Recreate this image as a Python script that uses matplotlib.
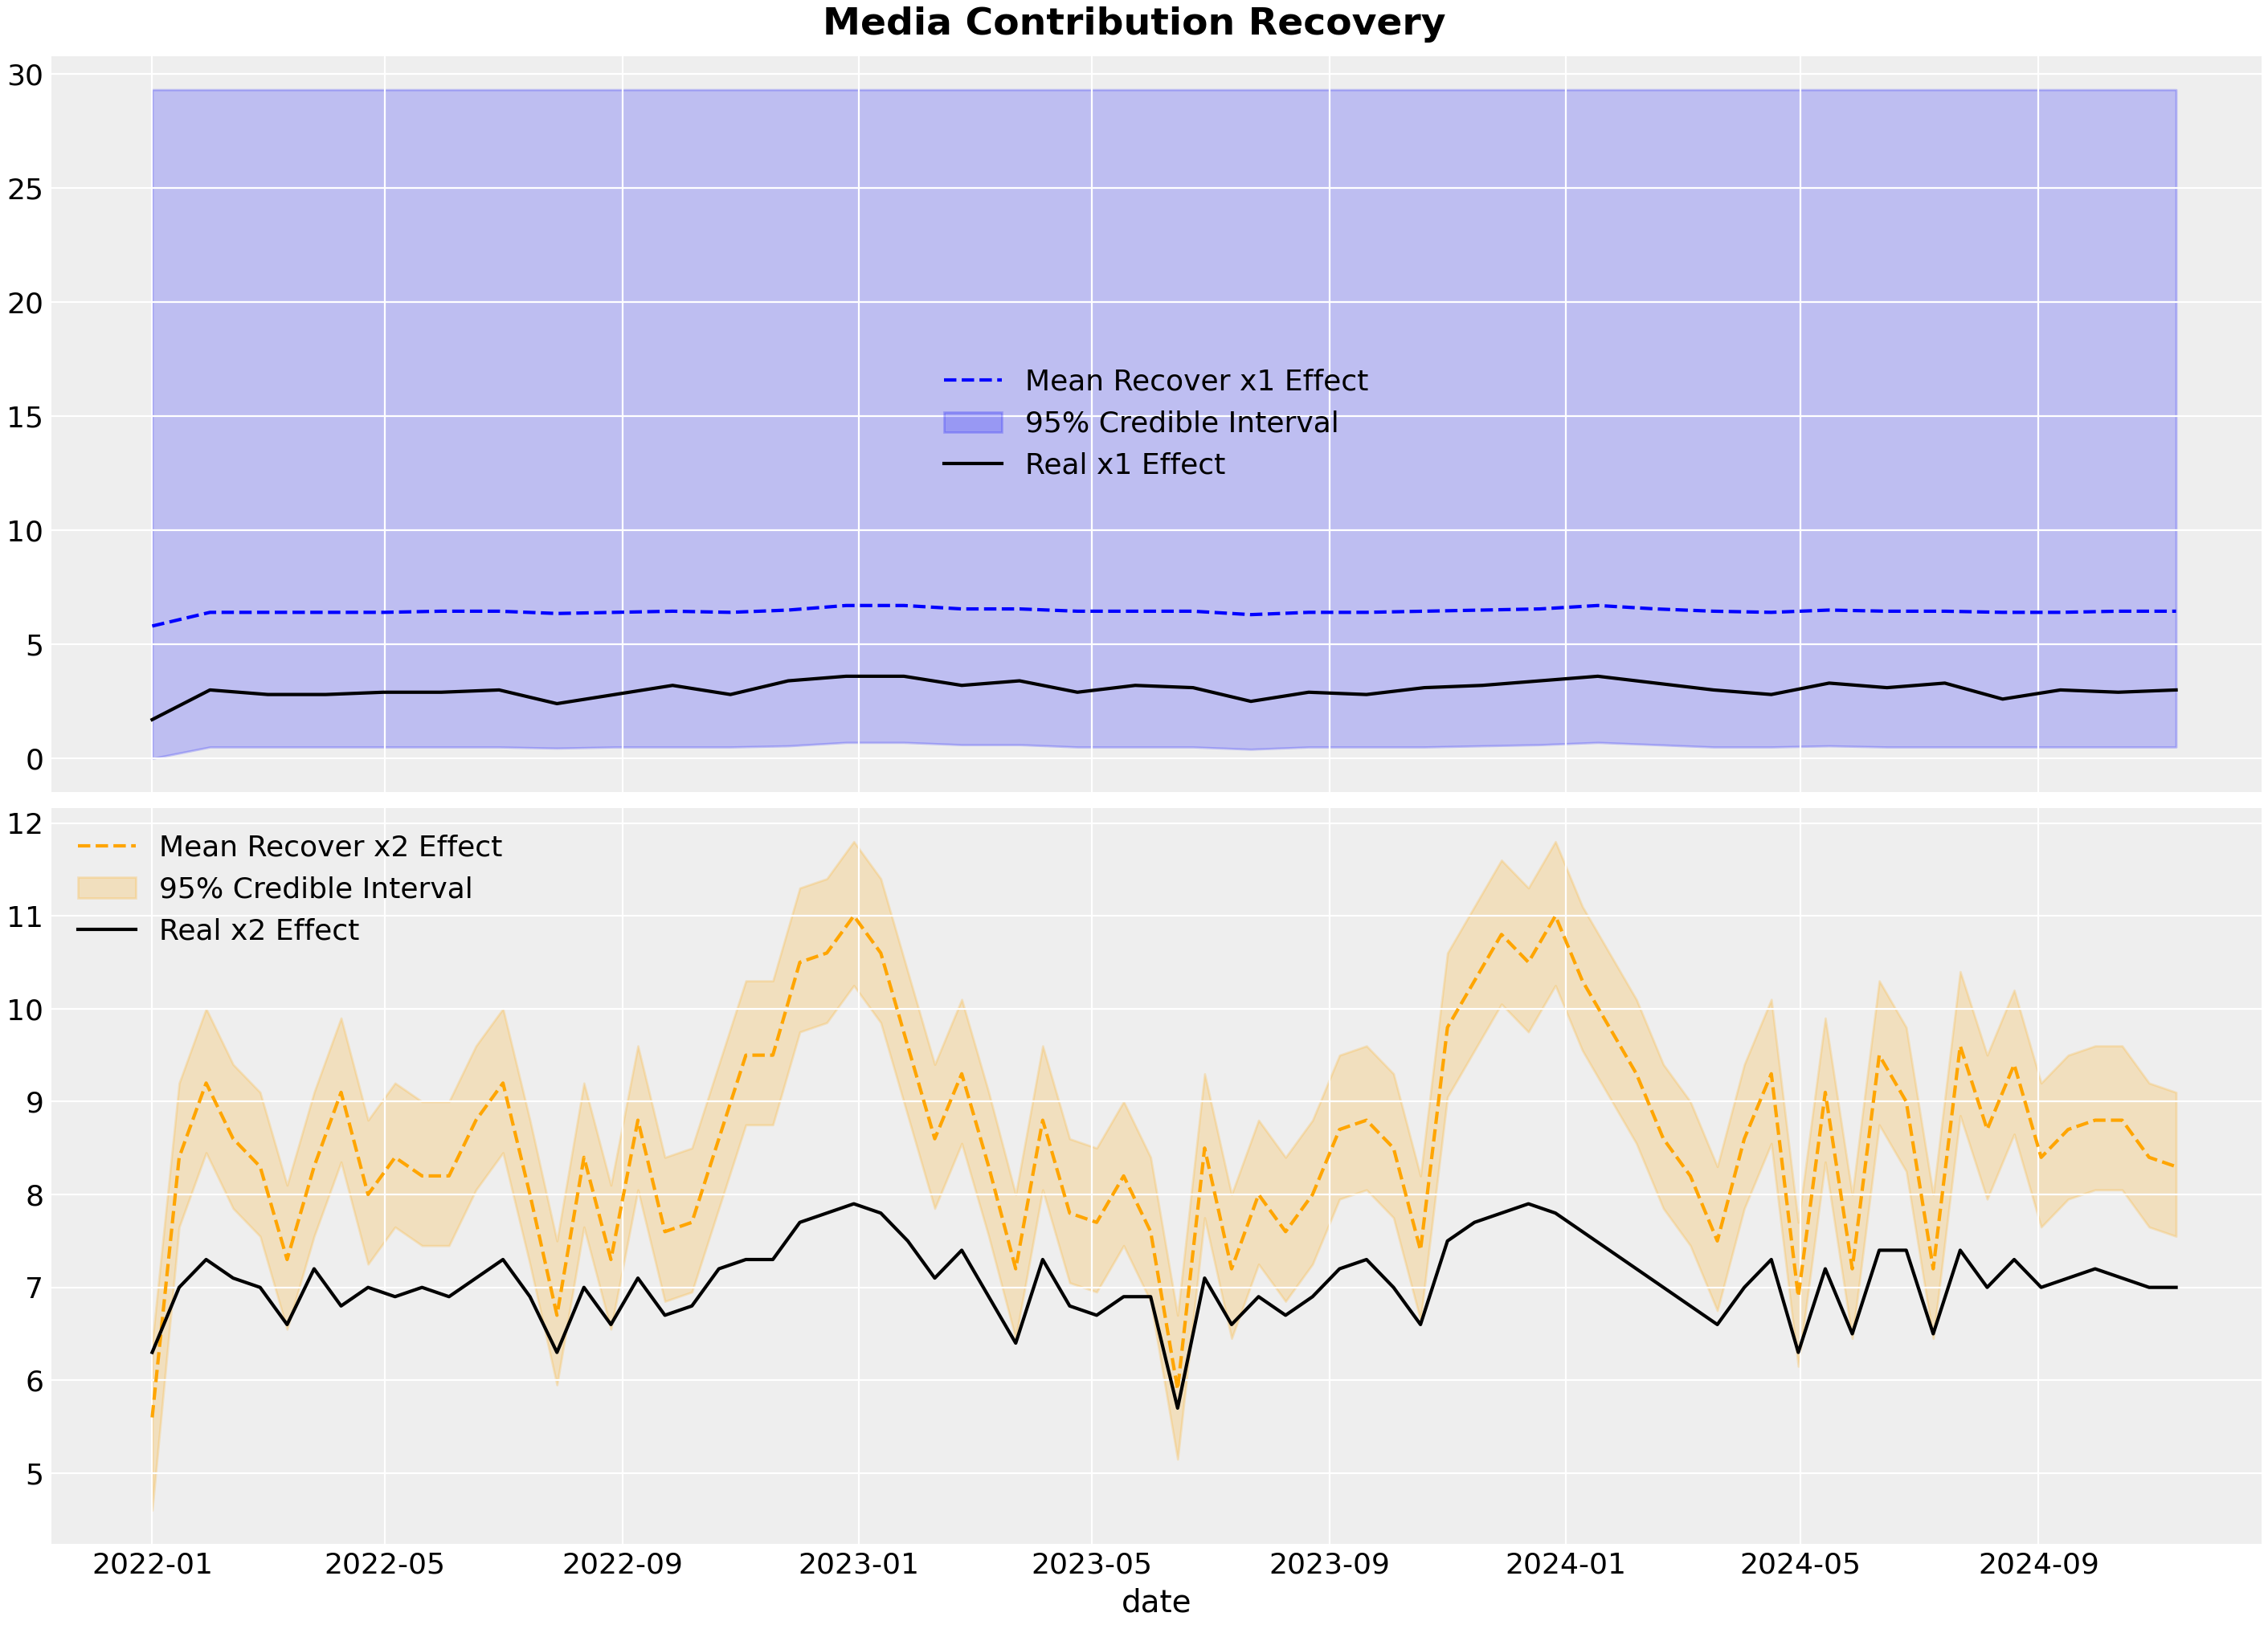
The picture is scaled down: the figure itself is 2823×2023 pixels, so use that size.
import matplotlib

matplotlib.use("Agg")
import matplotlib.pyplot as plt
import matplotlib.dates as mdates
import numpy as np
import pandas as pd

# x1 (roughly monthly readings)
x1_mean = [5.8, 6.4, 6.4, 6.4, 6.4, 6.45, 6.45, 6.35, 6.4, 6.45, 6.4, 6.5, 6.7, 6.7, 6.55, 6.55,
           6.45, 6.45, 6.45, 6.3, 6.4, 6.4, 6.45, 6.5, 6.55, 6.7, 6.55, 6.45, 6.4, 6.5, 6.45,
           6.45, 6.4, 6.4, 6.45, 6.45]
x1_real = [1.7, 3.0, 2.8, 2.8, 2.9, 2.9, 3.0, 2.4, 2.8, 3.2, 2.8, 3.4, 3.6, 3.6, 3.2, 3.4,
           2.9, 3.2, 3.1, 2.5, 2.9, 2.8, 3.1, 3.2, 3.4, 3.6, 3.3, 3.0, 2.8, 3.3, 3.1, 3.3,
           2.6, 3.0, 2.9, 3.0]
x1_lower = [0.0, 0.5, 0.5, 0.5, 0.5, 0.5, 0.5, 0.45, 0.5, 0.5, 0.5, 0.55, 0.7, 0.7, 0.6, 0.6,
            0.5, 0.5, 0.5, 0.4, 0.5, 0.5, 0.5, 0.55, 0.6, 0.7, 0.6, 0.5, 0.5, 0.55, 0.5,
            0.5, 0.5, 0.5, 0.5, 0.5]
x1_upper = [29.3] * len(x1_mean)

# x2 (roughly biweekly readings)
x2_mean = [5.6, 8.4, 9.2, 8.6, 8.3, 7.3, 8.3, 9.1, 8.0, 8.4, 8.2, 8.2, 8.8, 9.2, 8.0, 6.7,
           8.4, 7.3, 8.8, 7.6, 7.7, 8.6, 9.5, 9.5, 10.5, 10.6, 11.0, 10.6, 9.6, 8.6, 9.3, 8.3,
           7.2, 8.8, 7.8, 7.7, 8.2, 7.6, 5.9, 8.5, 7.2, 8.0, 7.6, 8.0, 8.7, 8.8, 8.5, 7.4,
           9.8, 10.3, 10.8, 10.5, 11.0, 10.3, 9.8, 9.3, 8.6, 8.2, 7.5, 8.6, 9.3, 6.9, 9.1,
           7.2, 9.5, 9.0, 7.2, 9.6, 8.7, 9.4, 8.4, 8.7, 8.8, 8.8, 8.4, 8.3]
x2_real = [6.3, 7.0, 7.3, 7.1, 7.0, 6.6, 7.2, 6.8, 7.0, 6.9, 7.0, 6.9, 7.1, 7.3, 6.9, 6.3,
           7.0, 6.6, 7.1, 6.7, 6.8, 7.2, 7.3, 7.3, 7.7, 7.8, 7.9, 7.8, 7.5, 7.1, 7.4, 6.9,
           6.4, 7.3, 6.8, 6.7, 6.9, 6.9, 5.7, 7.1, 6.6, 6.9, 6.7, 6.9, 7.2, 7.3, 7.0, 6.6,
           7.5, 7.7, 7.8, 7.9, 7.8, 7.6, 7.4, 7.2, 7.0, 6.8, 6.6, 7.0, 7.3, 6.3, 7.2, 6.5,
           7.4, 7.4, 6.5, 7.4, 7.0, 7.3, 7.0, 7.1, 7.2, 7.1, 7.0, 7.0]
x2_band_low = [1.0] + [0.75] * (len(x2_mean) - 1)
x2_band_high = [0.8] * len(x2_mean)

start, end = "2022-01-01", "2024-11-11"
dates1 = pd.date_range(start, end, periods=len(x1_mean))
dates2 = pd.date_range(start, end, periods=len(x2_mean))

plt.rcParams.update({
    "axes.facecolor": "#eeeeee",
    "figure.facecolor": "white",
    "axes.edgecolor": "white",
    "axes.grid": True,
    "grid.color": "white",
    "grid.linewidth": 0.8,
    "font.size": 13,
    "xtick.labelsize": 13,
    "ytick.labelsize": 13,
})

fig, axes = plt.subplots(2, 1, figsize=(14.115, 10.115), dpi=200, sharex=True,
                         layout="constrained")

ax = axes[0]
ax.plot(dates1, x1_mean, color="blue", ls="--", lw=1.5, label="Mean Recover x1 Effect")
ax.fill_between(dates1, x1_lower, x1_upper, color="blue", alpha=0.2, label="95% Credible Interval")
ax.plot(dates1, x1_real, color="black", lw=1.5, label="Real x1 Effect")
ax.legend(loc="center", frameon=False, fontsize=13)

ax = axes[1]
m2 = np.array(x2_mean)
ax.plot(dates2, m2, color="orange", ls="--", lw=1.5, label="Mean Recover x2 Effect")
ax.fill_between(dates2, m2 - np.array(x2_band_low), m2 + np.array(x2_band_high),
                color="orange", alpha=0.2, label="95% Credible Interval")
ax.plot(dates2, x2_real, color="black", lw=1.5, label="Real x2 Effect")
ax.legend(loc="upper left", frameon=False, fontsize=13)
ax.set_xlabel("date", fontsize=14)
ax.xaxis.set_major_locator(mdates.MonthLocator(bymonth=[1, 5, 9]))
ax.xaxis.set_major_formatter(mdates.DateFormatter("%Y-%m"))
ax.set_xlim(pd.Timestamp("2021-11-10"), pd.Timestamp("2024-12-25"))

for a in axes:
    for s in a.spines.values():
        s.set_visible(False)
    a.tick_params(length=0)

fig.suptitle("Media Contribution Recovery", fontsize=17, fontweight="bold")
fig.savefig("out.png")
